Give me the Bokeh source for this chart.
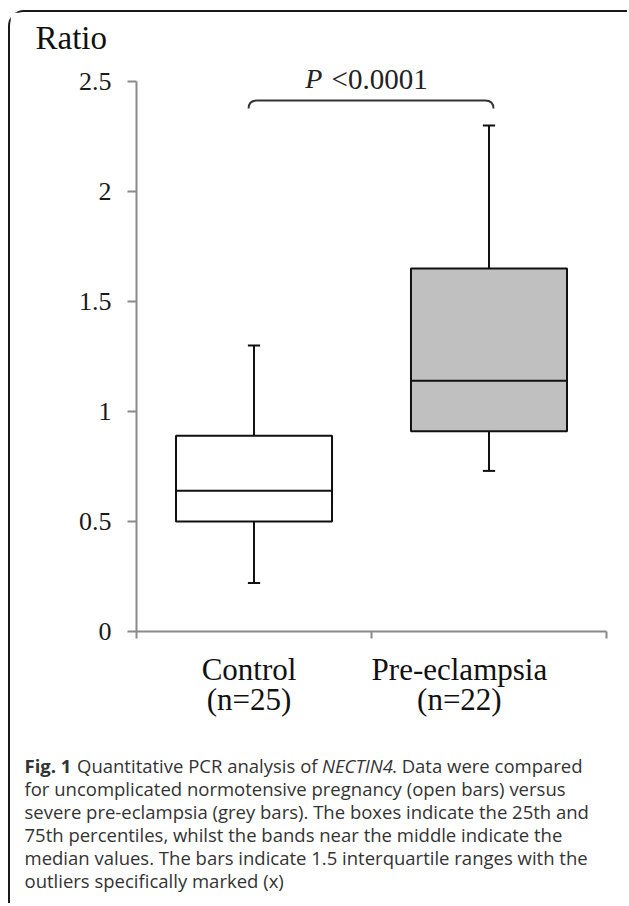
from bokeh.plotting import figure
from bokeh.models import Range1d, FixedTicker, Label
from bokeh.layouts import column
from bokeh.embed import file_html
from bokeh.resources import INLINE

# ---- data ----
categories = ["Control", "Pre-eclampsia"]
group_sizes = ["(n=25)", "(n=22)"]
whisker_low = [0.22, 0.73]
q1 = [0.50, 0.91]
median = [0.64, 1.14]
q3 = [0.89, 1.65]
whisker_high = [1.30, 2.30]
box_fills = ["#ffffff", "#c0c0c0"]
y_ticks = [0, 0.5, 1, 1.5, 2, 2.5]
y_tick_labels = ["0", "0.5", "1", "1.5", "2", "2.5"]
x_boundaries = [0, 1, 2]
y_title = "Ratio"
p_symbol = "P"
p_text = "<0.0001"
caption_first = ["Fig. 1", "Quantitative PCR analysis of", "NECTIN4", ". Data were compared"]
caption_lines = [
    "for uncomplicated normotensive pregnancy (open bars) versus",
    "severe pre-eclampsia (grey bars). The boxes indicate the 25th and",
    "75th percentiles, whilst the bands near the middle indicate the",
    "median values. The bars indicate 1.5 interquartile ranges with the",
    "outliers specifically marked (x)",
]

x_centers = [i + 0.5 for i in range(len(categories))]
label_x = [0.479, 1.374]          # where the reference centres its category labels
box_half = 0.332
cap_half = 0.026

SERIF = "Liberation Serif"
W = 617
Y_TOP = 2.5955                    # a little room above 2.5 for the p-value text
p = figure(width=W, height=723, x_range=Range1d(0, 2), y_range=Range1d(0, Y_TOP),
           output_backend="svg", toolbar_location=None,
           min_border_left=126, min_border_right=21, min_border_top=48, min_border_bottom=104)
p.outline_line_color = None
p.xgrid.visible = False
p.ygrid.visible = False

# "Ratio" as the title, pushed left over the tick labels
p.title.text = y_title
p.title.align = "left"
p.title.offset = -101
p.title.standoff = 9
p.title.text_font = SERIF
p.title.text_font_size = "33px"
p.title.text_font_style = "normal"
p.title.text_color = "#111111"

AX = "#8a8a8a"
for ax in (p.xaxis[0], p.yaxis[0]):
    ax.axis_line_color = AX
    ax.axis_line_width = 2
    ax.major_tick_line_color = AX
    ax.major_tick_line_width = 2
    ax.major_tick_in = 0

ya = p.yaxis[0]
ya.bounds = (0, 2.5)
ya.ticker = FixedTicker(ticks=y_ticks)
ya.minor_tick_line_color = None
ya.major_label_overrides = {t: l for t, l in zip(y_ticks, y_tick_labels)}
ya.major_tick_out = 9
ya.major_label_standoff = 16
ya.major_label_text_font = SERIF
ya.major_label_text_font_size = "26px"
ya.major_label_text_color = "#1a1a1a"

# x axis: tick marks at the category boundaries (minor), labels at the label positions (major)
xa = p.xaxis[0]
xa.ticker = FixedTicker(ticks=label_x, minor_ticks=x_boundaries)
xa.major_tick_line_color = None
xa.major_tick_out = 0
xa.minor_tick_in = 0
xa.minor_tick_out = 7
xa.minor_tick_line_color = AX
xa.minor_tick_line_width = 2
xa.major_label_overrides = {lx: c + "\n" + n for lx, c, n in zip(label_x, categories, group_sizes)}
xa.major_label_standoff = 13
xa.major_label_text_font = SERIF
xa.major_label_text_font_size = "31px"
xa.major_label_text_line_height = 0.875
xa.major_label_text_color = "#111111"

# boxes
lefts = [c - box_half for c in x_centers]
rights = [c + box_half for c in x_centers]
p.quad(left=lefts, right=rights, bottom=q1, top=q3, fill_color=box_fills,
       line_color="#111111", line_width=2)
p.segment(x0=lefts, x1=rights, y0=median, y1=median, line_color="#111111", line_width=2)
# whiskers and caps
p.segment(x0=x_centers, x1=x_centers, y0=q3, y1=whisker_high, line_color="#111111", line_width=2)
p.segment(x0=x_centers, x1=x_centers, y0=q1, y1=whisker_low, line_color="#111111", line_width=2)
p.segment(x0=[c - cap_half for c in x_centers], x1=[c + cap_half for c in x_centers],
          y0=whisker_high, y1=whisker_high, line_color="#111111", line_width=2)
p.segment(x0=[c - cap_half for c in x_centers], x1=[c + cap_half for c in x_centers],
          y0=whisker_low, y1=whisker_low, line_color="#111111", line_width=2)

# significance brace
bl, br = 0.477, 1.519
by, bend = 2.414, 2.377
dx = 0.036
p.segment(x0=[bl + dx], x1=[br - dx], y0=[by], y1=[by], line_color="#333333", line_width=2)
p.quadratic(x0=[bl, br], y0=[bend, bend], x1=[bl + dx, br - dx], y1=[by, by],
            cx=[bl, br], cy=[by, by], line_color="#333333", line_width=2)

p_y = 2.5136
p.add_layout(Label(x=0.791, y=p_y, text=p_symbol, text_font=SERIF, text_font_style="italic",
                   text_font_size="28px", text_color="#222222", text_align="right",
                   text_baseline="middle"))
p.add_layout(Label(x=0.830, y=p_y, text=p_text, text_font=SERIF, text_font_size="29px",
                   text_color="#222222", text_align="left", text_baseline="middle"))

# ---- caption panel (ranges in page pixels) ----
cap = figure(width=W, height=168, x_range=Range1d(10, 10 + W), y_range=Range1d(903, 735),
             output_backend="svg", toolbar_location=None, x_axis_type=None, y_axis_type=None,
             min_border=0)
cap.outline_line_color = None
cap.xgrid.visible = False
cap.ygrid.visible = False
for fig in (p, cap):
    if "frame_align" in fig.properties():
        fig.frame_align = False

CAP = "Open Sans"
CS = "18.5px"
CC = "#333333"
base0 = 765
step = 23
seg_x = [24, 76.5, 321.5, 391.5]
seg_style = ["bold", "normal", "italic", "normal"]
for sx, txt, st in zip(seg_x, caption_first, seg_style):
    cap.add_layout(Label(x=sx, y=base0, text=txt, text_font=CAP, text_font_size=CS,
                         text_font_style=st, text_color=CC, text_align="left",
                         text_baseline="alphabetic"))
for i, line in enumerate(caption_lines):
    cap.add_layout(Label(x=24, y=base0 + step * (i + 1), text=line, text_font=CAP,
                         text_font_size=CS, text_color=CC, text_align="left",
                         text_baseline="alphabetic"))

layout = column(p, cap, styles={"margin-left": "8px", "margin-top": "10px",
                                "border-left": "2px solid #1a1a1a",
                                "border-top": "2px solid #1a1a1a",
                                "border-top-left-radius": "16px"})

open("out.html", "w").write(file_html(layout, INLINE))
